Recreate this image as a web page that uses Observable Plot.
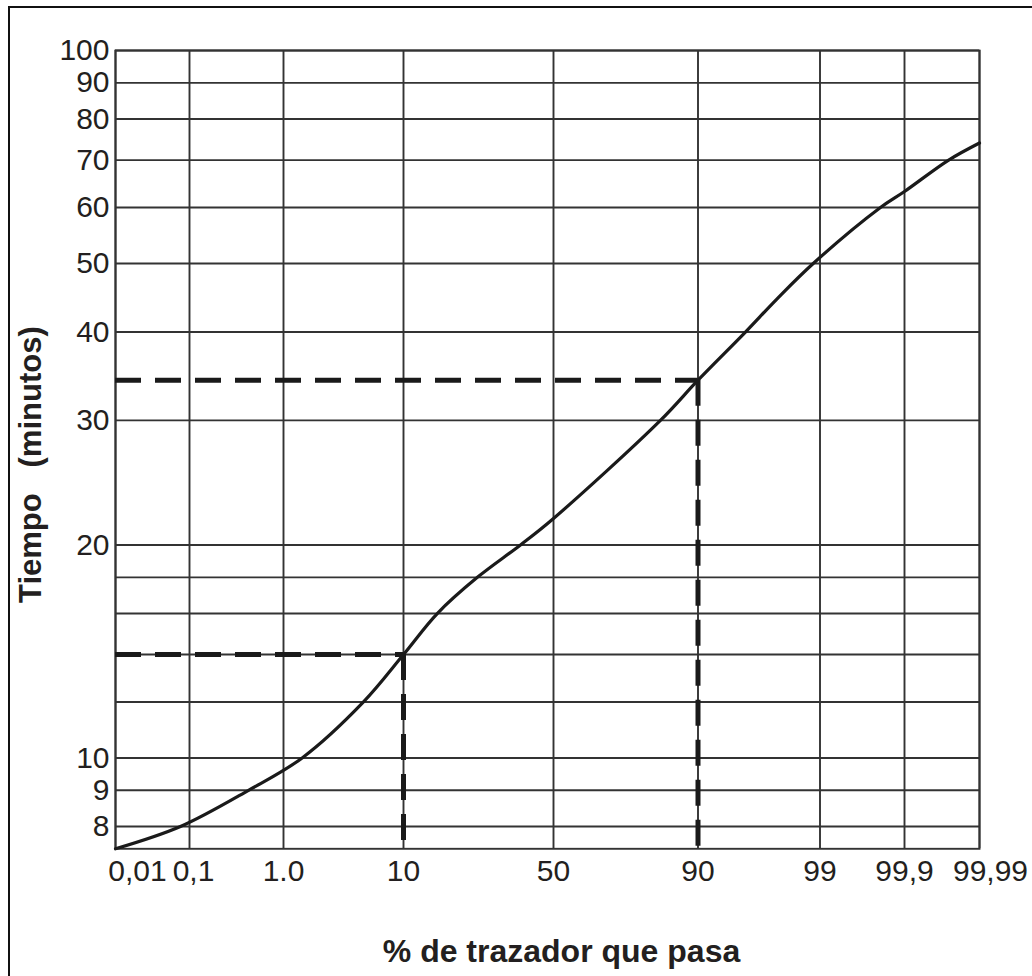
<!DOCTYPE html>
<html>
<head>
<meta charset="utf-8">
<script src="https://cdn.jsdelivr.net/npm/d3@7"></script>
<script src="https://cdn.jsdelivr.net/npm/@observablehq/plot@0.6"></script>
<style>
  html, body { margin: 0; padding: 0; background: #fff; }
  #wrap { position: relative; width: 1032px; height: 976px; overflow: hidden; background: #fff; }
  #border { position: absolute; left: 8px; top: 6px; width: 1200px; height: 1200px;
            border-left: 2px solid #111; border-top: 2px solid #111; box-sizing: border-box; pointer-events: none; }
  #chart { position: absolute; left: 0; top: 0; }
</style>
</head>
<body>
<div id="wrap"><div id="border"></div><div id="chart"></div></div>
<script>
// ---- data ----
const xTicks = [0.01, 0.1, 1, 10, 50, 90, 99, 99.9, 99.99];
const xTickLabels = ["0,01", "0,1", "1.0", "10", "50", "90", "99", "99,9", "99,99"];
const yTicks = [8, 9, 10, 20, 30, 40, 50, 60, 70, 80, 90, 100];
const yMinorGrid = [12, 14, 16, 18];
const yDomain = [7.44, 100];

// curve: % of tracer passed vs time (minutes)
const curvePct = [0.01, 0.089, 0.665, 2.4, 7.0, 10, 19.0, 29.7, 41.2, 50, 79.6, 90, 93.5, 95.8, 98.5, 99.644, 99.9, 99.953, 99.99];
const curveMin = [7.44, 8.0, 9.0, 10, 12, 14, 16, 18, 20, 21.8, 30, 34.2, 40, 44.5, 50, 60, 63.2, 70, 74.0];

// reading lines (dashed)
const readPct = [10, 90];
const readMin = [14, 34.2];

const xTitle = "% de trazador que pasa";
const yTitle = "Tiempo\u00a0\u00a0 (minutos)";

// ---- build ----
const curve = curvePct.map((p, i) => ({p, t: curveMin[i]}));
const reads = readPct.map((p, i) => ({p, t: readMin[i]}));
const labelOf = new Map(xTicks.map((v, i) => [v, xTickLabels[i]]));

const ink = "#231f20";
const gridColor = "#333";
const font = "'Liberation Sans', Arial, Helvetica, sans-serif";
const tickFont = 30;

const xLabelMark = (ticks, dx) => Plot.text(ticks, {
  x: d => d, text: d => labelOf.get(d), frameAnchor: "bottom", lineAnchor: "top",
  textAnchor: "middle", dy: 11, dx, fontSize: tickFont, fill: ink
});

const chart = Plot.plot({
  width: 1032,
  height: 976,
  marginLeft: 115,
  marginRight: 53,
  marginTop: 50,
  marginBottom: 127.7,
  style: {fontFamily: font, color: ink, background: "transparent", overflow: "visible"},
  x: {type: "linear", domain: xTicks, range: [115, 189, 283, 403, 553, 697.5, 819.5, 904, 979], axis: null},
  y: {type: "log", domain: yDomain, axis: null},
  marks: [
    Plot.ruleY(yTicks.concat(yMinorGrid), {stroke: gridColor, strokeWidth: 1.9}),
    Plot.ruleX(xTicks, {stroke: gridColor, strokeWidth: 1.9}),
    Plot.frame({stroke: gridColor, strokeWidth: 1.9}),
    Plot.ruleY(reads, {y: "t", x1: xTicks[0], x2: "p", stroke: "#1a1a1a", strokeWidth: 5, strokeDasharray: "26,14"}),
    Plot.ruleX(reads, {x: "p", y1: "t", y2: yDomain[0], stroke: "#1a1a1a", strokeWidth: 5, strokeDasharray: "26,14"}),
    Plot.line(curve, {x: "p", y: "t", stroke: "#1a1a1a", strokeWidth: 3.2, curve: "catmull-rom"}),
    // x tick labels
    xLabelMark([xTicks[0]], 22),
    xLabelMark([xTicks[1]], 4),
    xLabelMark(xTicks.slice(2, -1), 0),
    xLabelMark([xTicks[xTicks.length - 1]], 11),
    // y tick labels
    Plot.text(yTicks, {y: d => d, text: d => String(d), frameAnchor: "left", textAnchor: "end", lineAnchor: "middle", dx: -6, fontSize: tickFont, fill: ink}),
    // axis titles
    Plot.text([xTitle], {text: d => d, frameAnchor: "bottom", textAnchor: "middle", lineAnchor: "middle", dx: 14, dy: 103, fontSize: 32, fontWeight: "bold", fill: ink}),
    Plot.text([yTitle], {text: d => d, frameAnchor: "left", textAnchor: "middle", lineAnchor: "middle", rotate: -90, dx: -84, dy: 15, fontSize: 31, fontWeight: "bold", fill: ink})
  ]
});
document.getElementById("chart").appendChild(chart);
</script>
</body>
</html>
